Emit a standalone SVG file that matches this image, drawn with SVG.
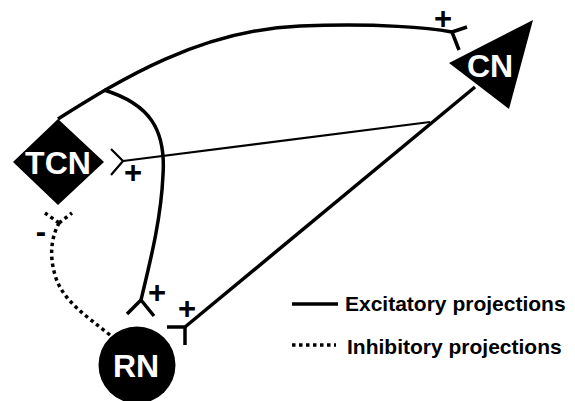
<svg xmlns="http://www.w3.org/2000/svg" width="575" height="401" viewBox="0 0 575 401">
<style>
.node{fill:#000}
.lbl{font-family:"Liberation Sans",Arial,sans-serif;font-weight:bold;fill:#fff;font-size:32px;text-anchor:middle}
.sign{font-family:"Liberation Sans",Arial,sans-serif;font-weight:bold;fill:#000;font-size:31px;text-anchor:middle}
.leg{font-family:"Liberation Sans",Arial,sans-serif;font-weight:bold;fill:#000;font-size:21px}
.exc{fill:none;stroke:#000;stroke-width:3.5;stroke-linecap:butt}
.thin{fill:none;stroke:#000;stroke-width:2.2}
.inh{fill:none;stroke:#000;stroke-width:3.5;stroke-dasharray:3.5 3.5}
</style>
<rect width="575" height="401" fill="#fff"/>
<g id="connectors">
  <path class="exc" d="M58,119 C120,80 200,30 300,26 C380,23 430,28 452,32"/>
  <path class="exc" d="M452,32 L467,27 M452,32 L459,50"/>
  <path class="exc" d="M104,90 C150,104 166,130 163,175 C161,220 150,262 141,300"/>
  <path class="exc" d="M141,300 L127,314 M141,300 L154,316"/>
  <path class="thin" d="M430,122 L123,161"/>
  <path class="thin" d="M123,161 L111,149 M123,161 L111,175" stroke-width="2.5"/>
  <path class="exc" d="M475,87 L185,327"/>
  <path class="exc" d="M185,327 L167,327 M185,327 L185,345"/>
  <path class="inh" d="M110,335 C85,315 62,300 55,275 C50,258 50,240 59,223"/>
  <path class="inh" d="M59,223 L45,213 M59,223 L72,213"/>
  <text class="sign" x="443" y="29">+</text>
  <text class="sign" x="133" y="183">+</text>
  <text class="sign" x="157" y="303">+</text>
  <text class="sign" x="187" y="319">+</text>
  <text class="sign" x="41" y="242" font-size="34">-</text>
</g>
<g id="TCN">
  <polygon class="node" points="13,162 58,119 104,162 58,205"/>
  <text class="lbl" x="58" y="174">TCN</text>
</g>
<g id="CN">
  <polygon class="node" points="533,20 449,63 509,109"/>
  <text class="lbl" x="490" y="77">CN</text>
</g>
<g id="RN">
  <circle class="node" cx="137" cy="365" r="38.5"/>
  <text class="lbl" x="136" y="377">RN</text>
</g>
<g id="legend">
  <line class="exc" x1="292" y1="304" x2="338" y2="304"/>
  <text class="leg" x="345" y="311">Excitatory projections</text>
  <line class="inh" x1="292" y1="345" x2="336" y2="345"/>
  <text class="leg" x="347" y="354">Inhibitory projections</text>
</g>
</svg>
